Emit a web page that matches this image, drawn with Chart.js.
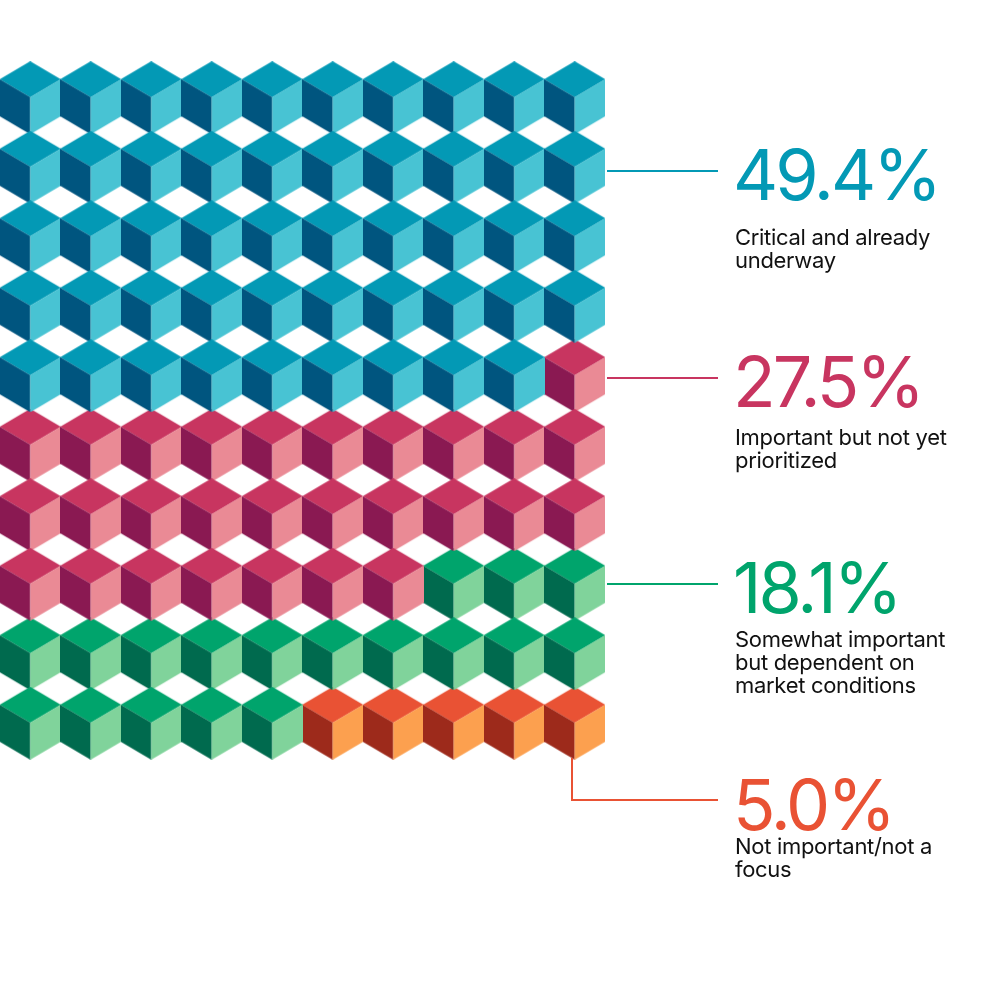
<!DOCTYPE html>
<html><head><meta charset="utf-8">
<script src="https://cdn.jsdelivr.net/npm/chart.js@4"></script>
<style>
body{margin:0;background:#fff;width:1000px;height:1000px;overflow:hidden;font-family:Inter,"Liberation Sans",sans-serif}
#wrap{position:absolute;left:0;top:0;width:1000px;height:1000px}
.pct{position:absolute;font-size:70px;line-height:70px;letter-spacing:-3px;font-weight:400}
.lbl{position:absolute;font-size:22px;line-height:23px;color:#111;letter-spacing:-0.3px}
.ln{position:absolute;height:2px}
</style></head><body>
<div id="wrap"><canvas id="c" width="1000" height="1000"></canvas></div>
<script>
const categories=["Critical and already underway","Important but not yet prioritized","Somewhat important but dependent on market conditions","Not important/not a focus"];
const percents=[49.4,27.5,18.1,5.0];
const counts=[49,28,18,5];
const topC=["#0399b5","#c83560","#00a46c","#e95234"];
const leftC=["#00557f","#8a1952","#006a4e","#9d2a1b"];
const rightC=["#48c3d3","#ea8a95","#80d39b","#fca04f"];
const COLS=10,ROWS=10;

function cube(i){
  const w=61,h=73,c=document.createElement('canvas');c.width=w;c.height=h;
  const g=c.getContext('2d');const m=w/2,t=18;
  const poly=(pts,col)=>{g.fillStyle=col;g.beginPath();pts.forEach((p,k)=>k?g.lineTo(p[0],p[1]):g.moveTo(p[0],p[1]));g.closePath();g.fill();};
  poly([[m,0],[w,t],[m,2*t],[0,t]],topC[i]);
  poly([[0,t],[m,2*t],[m,h],[0,h-t]],leftC[i]);
  poly([[m,2*t],[w,t],[w,h-t],[m,h]],rightC[i]);
  return c;
}
let idx=0;const datasets=counts.map((n,i)=>{const d=[];for(let k=0;k<n;k++,idx++){d.push({x:idx%COLS+0.5,y:Math.floor(idx/COLS)+0.5});}
  return {label:categories[i],data:d,pointStyle:cube(i),pointRadius:1,clip:false};});
new Chart(document.getElementById('c'),{type:'scatter',data:{datasets},
 options:{responsive:false,animation:false,layout:{autoPadding:false,padding:{left:0,right:395,top:63,bottom:242}},
 plugins:{legend:{display:false},tooltip:{enabled:false}},
 scales:{x:{display:false,min:0,max:COLS},y:{display:false,min:0,max:ROWS,reverse:true}}}});

const labels=[
 {pct:0,y:140,ly:226,line:[607,170,718]},
 {pct:1,y:347,ly:426,line:[607,377,718]},
 {pct:2,y:553,ly:628,line:[607,583,718]},
 {pct:3,y:770,ly:835,line:null}];
const wrap=document.getElementById('wrap');
labels.forEach(L=>{
 const p=document.createElement('div');p.className='pct';p.style.left='733px';p.style.top=L.y+'px';p.style.color=topC[L.pct];p.textContent=percents[L.pct].toFixed(1)+'%';wrap.appendChild(p);
 const l=document.createElement('div');l.className='lbl';l.style.left='735px';l.style.top=L.ly+'px';l.style.width=240+'px';l.textContent=categories[L.pct];wrap.appendChild(l);
 if(L.line){const d=document.createElement('div');d.className='ln';d.style.left=L.line[0]+'px';d.style.top=L.line[1]+'px';d.style.width=(L.line[2]-L.line[0])+'px';d.style.background=topC[L.pct];wrap.appendChild(d);}
});
const v=document.createElement('div');v.style.cssText='position:absolute;left:571px;top:758px;width:2px;height:43px;background:'+topC[3];wrap.appendChild(v);
const h=document.createElement('div');h.className='ln';h.style.cssText+=';left:571px;top:799px;width:147px;background:'+topC[3];wrap.appendChild(h);
</script></body></html>
